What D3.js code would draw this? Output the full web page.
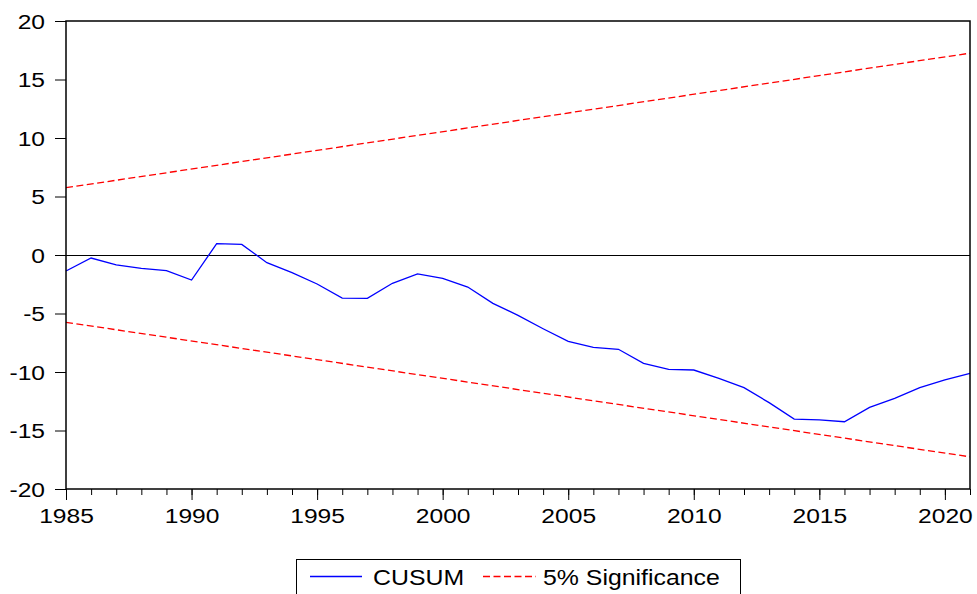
<!DOCTYPE html>
<html>
<head>
<meta charset="utf-8">
<script src="https://cdn.jsdelivr.net/npm/d3@7"></script>
<style>
  html, body { margin: 0; padding: 0; background: #fff; }
  svg { display: block; font-family: "Liberation Sans", Arial, sans-serif; }
</style>
</head>
<body>
<svg id="chart" width="977" height="594"></svg>
<script>
// CUSUM of recursive residuals, 1985-2021
const years = d3.range(1985, 2022);
const cusum = [
  -1.37, -0.26, -0.85, -1.14, -1.34, -2.14, 0.97, 0.91, -0.66, -1.51,
  -2.48, -3.68, -3.70, -2.42, -1.62, -1.99, -2.74, -4.13, -5.16, -6.30,
  -7.38, -7.89, -8.06, -9.26, -9.77, -9.83, -10.54, -11.34, -12.62, -14.02,
  -14.10, -14.25, -13.02, -12.25, -11.34, -10.68, -10.11
];
// 5% significance bounds (straight lines between the end years)
const boundYears = [1985, 2021];
const upperBound = [5.75, 17.25];
const lowerBound = [-5.75, -17.25];

const yTicks = [-20, -15, -10, -5, 0, 5, 10, 15, 20];
const xMajorTicks = [1985, 1990, 1995, 2000, 2005, 2010, 2015, 2020];
const legendLabels = ["CUSUM", "5% Significance"];

const plotLeft = 66, plotRight = 970, plotTop = 21, plotBottom = 489;
const stretch = 1.2;
const plainNumber = d => String(d); // ASCII hyphen for negatives

const svg = d3.select("#chart");
const x = d3.scaleLinear().domain([1985, 2021]).range([plotLeft, plotRight]);
const y = d3.scaleLinear().domain([-20, 20]).range([plotBottom, plotTop]);

// y axis: outward ticks with labels
const yAxis = svg.append("g")
  .attr("transform", `translate(${plotLeft},0)`)
  .call(d3.axisLeft(y).tickValues(yTicks).tickSize(11).tickPadding(10).tickFormat(plainNumber));
yAxis.select(".domain").remove();
yAxis.selectAll("line").attr("stroke", "#000").attr("stroke-width", 1);
yAxis.selectAll("text")
  .attr("x", -21 / stretch)
  .attr("dy", "0.36em")
  .attr("transform", `scale(${stretch},1)`)
  .attr("font-size", 20.5)
  .attr("fill", "#000")
  .attr("font-family", "Liberation Sans, Arial, sans-serif");

// x axis: short ticks every year, long labelled ticks every five years
const xMinor = svg.append("g")
  .attr("transform", `translate(0,${plotBottom})`)
  .call(d3.axisBottom(x).tickValues(years).tickSize(6).tickFormat(""));
xMinor.select(".domain").remove();
xMinor.selectAll("line").attr("stroke", "#000");

const xAxis = svg.append("g")
  .attr("transform", `translate(0,${plotBottom})`)
  .call(d3.axisBottom(x).tickValues(xMajorTicks).tickSize(11).tickPadding(8).tickFormat(plainNumber));
xAxis.select(".domain").remove();
xAxis.selectAll("line").attr("stroke", "#000");
xAxis.selectAll("text")
  .attr("transform", `scale(${stretch},1)`)
  .attr("font-size", 20.5)
  .attr("fill", "#000")
  .attr("font-family", "Liberation Sans, Arial, sans-serif");

// zero reference line
svg.append("line")
  .attr("x1", plotLeft).attr("x2", plotRight)
  .attr("y1", y(0) + 0.5).attr("y2", y(0) + 0.5)
  .attr("stroke", "#000").attr("stroke-width", 1);

// significance bounds
const boundLine = d3.line().x((d, i) => x(boundYears[i])).y(d => y(d));
[upperBound, lowerBound].forEach(b => {
  svg.append("path")
    .attr("d", boundLine(b))
    .attr("fill", "none")
    .attr("stroke", "#ff0000")
    .attr("stroke-width", 1.3)
    .attr("stroke-dasharray", "7,3.5");
});

// CUSUM line
const line = d3.line().x((d, i) => x(years[i])).y(d => y(d));
svg.append("path")
  .attr("d", line(cusum))
  .attr("fill", "none")
  .attr("stroke", "#0000ff")
  .attr("stroke-width", 1.3);

// plot frame
svg.append("rect")
  .attr("x", plotLeft).attr("y", plotTop)
  .attr("width", plotRight - plotLeft).attr("height", plotBottom - plotTop)
  .attr("fill", "none").attr("stroke", "#000").attr("stroke-width", 1.5);

// legend
const lg = svg.append("g");
lg.append("rect")
  .attr("x", 296.5).attr("y", 559.5).attr("width", 444).attr("height", 60)
  .attr("fill", "#fff").attr("stroke", "#000").attr("stroke-width", 1);
lg.append("line").attr("x1", 310).attr("x2", 362).attr("y1", 576.5).attr("y2", 576.5)
  .attr("stroke", "#0000ff").attr("stroke-width", 1.3);
lg.append("line").attr("x1", 483).attr("x2", 536).attr("y1", 576.5).attr("y2", 576.5)
  .attr("stroke", "#ff0000").attr("stroke-width", 1.3).attr("stroke-dasharray", "7,3.5");
[[373, legendLabels[0]], [543, legendLabels[1]]].forEach(([lx, t]) => {
  lg.append("text")
    .attr("transform", `translate(${lx},584.5) scale(1.13,1)`)
    .attr("font-size", 22)
    .attr("fill", "#000")
    .text(t);
});
</script>
</body>
</html>
